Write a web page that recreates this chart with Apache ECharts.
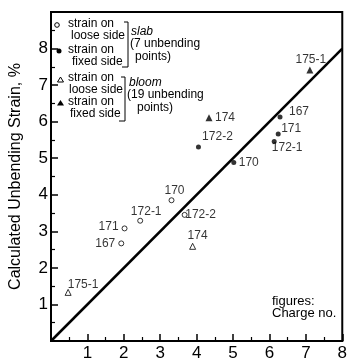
<!DOCTYPE html>
<html>
<head>
<meta charset="utf-8">
<script src="https://cdn.jsdelivr.net/npm/echarts@6/dist/echarts.min.js"></script>
<style>
html, body { margin: 0; padding: 0; background: #fff; }
#chart { width: 350px; height: 362px; }
</style>
</head>
<body>
<div id="chart"></div>
<script>
// slab, strain on loose side (open circles)
const slabLooseX = [1.93, 2.02, 2.45, 3.31, 3.67];
const slabLooseY = [2.67, 3.08, 3.29, 3.85, 3.45];
const slabLooseNo = ["167", "171", "172-1", "170", "172-2"];

// slab, strain on fixed side (filled circles)
const slabFixedX = [6.29, 6.24, 6.13, 4.05, 5.02];
const slabFixedY = [6.13, 5.66, 5.46, 5.31, 4.88];
const slabFixedNo = ["167", "171", "172-1", "172-2", "170"];

// bloom, strain on loose side (open triangles)
const bloomLooseX = [3.89, 0.47];
const bloomLooseY = [2.59, 1.33];
const bloomLooseNo = ["174", "175-1"];

// bloom, strain on fixed side (filled triangles)
const bloomFixedX = [4.34, 7.11];
const bloomFixedY = [6.11, 7.41];
const bloomFixedNo = ["174", "175-1"];

// reference line
const lineX = [0, 8];
const lineY = [0, 8];

// label offsets (px, from point centre), same order as the arrays above
const slabLooseOff = [[-16, 0], [-16, -2], [6, -9], [3, -10], [16, 0]];
const slabFixedOff = [[19, -5], [13, -5], [13, 6], [19, -10], [15, 0]];
const bloomLooseOff = [[5, -11], [15, -8]];
const bloomFixedOff = [[16, 0], [1, -10]];

const FONT = "Liberation Sans";

function pts(xs, ys, names, offs) {
    return xs.map((x, i) => ({
        value: [x, ys[i]],
        name: names[i],
        label: { offset: offs[i] },
    }));
}

const labelStyle = {
    show: true,
    position: "inside",
    formatter: "{b}",
    color: "#000",
    fontSize: 12,
    fontFamily: FONT,
};

function legendText(text, x, y, extra) {
    return {
        type: "text",
        left: x,
        top: y - 7,
        style: Object.assign(
            { text: text, fill: "#000", fontSize: 12, fontFamily: FONT },
            extra || {}
        ),
    };
}

const chart = echarts.init(document.getElementById("chart"));

const options = {
    animation: false,
    grid: {
        left: 45,
        right: 5,
        top: 12,
        bottom: 20,
        show: true,
        borderColor: "#000",
        borderWidth: 2,
    },
    xAxis: {
        type: "value",
        min: 0,
        max: 8,
        interval: 1,
        axisLine: { lineStyle: { color: "#000", width: 2 } },
        axisTick: { inside: true, length: 7, lineStyle: { color: "#000", width: 1.5 } },
        minorTick: { show: true, splitNumber: 2, length: 4, lineStyle: { color: "#000", width: 1.2 } },
        splitLine: { show: false },
        axisLabel: {
            color: "#000",
            fontSize: 17,
            fontFamily: FONT,
            margin: 4,
            formatter: (v) => (v === 0 ? "" : v),
        },
    },
    yAxis: {
        type: "value",
        min: 0,
        max: 9,
        interval: 1,
        name: "Calculated Unbending Strain, %",
        nameLocation: "middle",
        nameRotate: 90,
        nameGap: 27,
        nameTextStyle: { color: "#000", fontSize: 16, fontFamily: FONT },
        axisLine: { lineStyle: { color: "#000", width: 2 } },
        axisTick: { inside: true, length: 7, lineStyle: { color: "#000", width: 1.5 } },
        minorTick: { show: true, splitNumber: 2, length: 4, lineStyle: { color: "#000", width: 1.2 } },
        splitLine: { show: false },
        axisLabel: {
            color: "#000",
            fontSize: 17,
            fontFamily: FONT,
            margin: 3,
            formatter: (v) => (v === 0 || v === 9 ? "" : v),
        },
    },
    series: [
        {
            name: "line",
            type: "line",
            data: lineX.map((x, i) => [x, lineY[i]]),
            symbol: "none",
            lineStyle: { color: "#000", width: 2.5 },
            z: 1,
        },
        {
            name: "slab loose",
            type: "scatter",
            data: pts(slabLooseX, slabLooseY, slabLooseNo, slabLooseOff),
            symbol: "circle",
            symbolSize: 5,
            itemStyle: { color: "#fff", borderColor: "#000", borderWidth: 1 },
            label: labelStyle,
            z: 3,
        },
        {
            name: "slab fixed",
            type: "scatter",
            data: pts(slabFixedX, slabFixedY, slabFixedNo, slabFixedOff),
            symbol: "circle",
            symbolSize: 5,
            itemStyle: { color: "#000" },
            label: labelStyle,
            z: 3,
        },
        {
            name: "bloom loose",
            type: "scatter",
            data: pts(bloomLooseX, bloomLooseY, bloomLooseNo, bloomLooseOff),
            symbol: "triangle",
            symbolSize: 6,
            itemStyle: { color: "#fff", borderColor: "#000", borderWidth: 1 },
            label: labelStyle,
            z: 3,
        },
        {
            name: "bloom fixed",
            type: "scatter",
            data: pts(bloomFixedX, bloomFixedY, bloomFixedNo, bloomFixedOff),
            symbol: "triangle",
            symbolSize: 7,
            itemStyle: { color: "#000" },
            label: labelStyle,
            z: 3,
        },
    ],
    graphic: [
        // legend markers
        { type: "circle", shape: { cx: 57, cy: 25, r: 2.3 }, style: { fill: "#fff", stroke: "#000", lineWidth: 1 } },
        { type: "circle", shape: { cx: 59, cy: 51, r: 2.5 }, style: { fill: "#000" } },
        { type: "polygon", shape: { points: [[60.5, 77], [57.5, 82], [63.5, 82]] }, style: { fill: "#fff", stroke: "#000", lineWidth: 1 } },
        { type: "polygon", shape: { points: [[60.5, 100], [57, 105.5], [64, 105.5]] }, style: { fill: "#000" } },
        // legend texts
        legendText("strain on", 68, 25),
        legendText("loose side", 71, 37),
        legendText("strain on", 68, 51),
        legendText("fixed side", 72, 63),
        legendText("strain on", 68, 79),
        legendText("loose side", 69, 91),
        legendText("strain on", 68, 103),
        legendText("fixed side", 70, 115),
        // brackets
        { type: "polyline", shape: { points: [[124, 22], [128, 22], [128, 67], [122, 67]] }, style: { stroke: "#000", lineWidth: 1, fill: null } },
        { type: "polyline", shape: { points: [[121, 77], [125, 77], [125, 121], [119, 121]] }, style: { stroke: "#000", lineWidth: 1, fill: null } },
        legendText("slab", 131, 33, { fontStyle: "italic" }),
        legendText("(7 unbending", 130, 45),
        legendText("points)", 135, 58),
        legendText("bloom", 129, 84, { fontStyle: "italic" }),
        legendText("(19 unbending", 127, 96),
        legendText("points)", 137, 109),
        // note
        legendText("figures:", 272, 302, { fontSize: 13 }),
        legendText("Charge no.", 272, 314, { fontSize: 13 }),
    ],
};

chart.setOption(options);
</script>
</body>
</html>
